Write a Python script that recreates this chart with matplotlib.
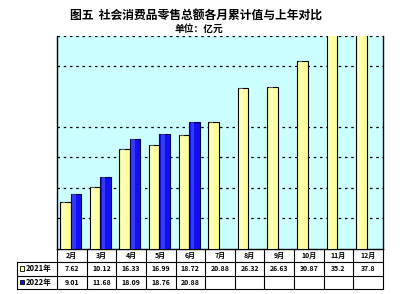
import matplotlib
matplotlib.use("Agg")
import matplotlib.pyplot as plt
from matplotlib.lines import Line2D
from matplotlib.patches import Rectangle
import numpy as np

plt.rcParams['font.family'] = ['Noto Sans CJK SC', 'DejaVu Sans']

months = ["2月", "3月", "4月", "5月", "6月", "7月", "8月", "9月", "10月", "11月", "12月"]
labels_2021 = ["7.62", "10.12", "16.33", "16.99", "18.72", "20.88", "26.32", "26.63", "30.87", "35.2", "37.8"]
labels_2022 = ["9.01", "11.68", "18.09", "18.76", "20.88"]
vals_2021 = [float(v) for v in labels_2021]
vals_2022 = [float(v) for v in labels_2022]
series_names = ["2021年", "2022年"]
title = "图五  社会消费品零售总额各月累计值与上年对比"
subtitle = "单位：亿元"

W, H = 400, 294
fig = plt.figure(figsize=(W / 100, H / 100), dpi=100)
fig.patch.set_facecolor("white")

L, R, T, B = 57, 383, 35.7, 248.5
ax = fig.add_axes([L / W, 1 - B / H, (R - L) / W, (B - T) / H])
ax.set_facecolor("#CCFFFF")

n = len(months)
x = np.arange(n)
bw = 0.355
c21 = x - 0.22
c22 = x[:len(vals_2022)] - 0.22 + bw

ax.bar(c21, vals_2021, width=bw, color="#FFFF99", edgecolor="black", linewidth=0.8, zorder=3)
ax.bar(c22, vals_2022, width=bw, color="#1010F0", edgecolor="#000050", linewidth=0.8, zorder=3)
# highlight for cylinder look
ax.bar(c21 - bw * 0.18, vals_2021, width=bw * 0.35, color="white", alpha=0.35, linewidth=0, zorder=4)
ax.bar(c22 - bw * 0.18, vals_2022, width=bw * 0.35, color="#6060FF", alpha=0.5, linewidth=0, zorder=4)

ax.set_xlim(-0.5, n - 0.5)
ax.set_ylim(0, 35)
for gy in [5, 10, 15, 20, 30, 35]:
    ax.axhline(gy, color="black", linestyle=(0, (2, 3)), linewidth=0.9, zorder=1)
ax.set_xticks([])
ax.set_yticks([])
for s in ["left", "bottom", "right"]:
    ax.spines[s].set_color("black")
    ax.spines[s].set_linewidth(1.0)
ax.spines["top"].set_visible(False)

# title
fig.text(196 / W, 1 - 15 / H, title, ha="center", va="center", fontsize=8.5, fontweight="bold")
fig.text(199 / W, 1 - 28.5 / H, subtitle, ha="center", va="center", fontsize=7, fontweight="bold")

# table
def fy(py):
    return 1 - py / H

colw = (R - L) / n
rows_y = [B, 262, 275.5, 289]
tl = 17
lk = dict(color="black", linewidth=0.8, transform=fig.transFigure)
for ry in rows_y[1:]:
    fig.add_artist(Line2D([tl / W, R / W], [fy(ry), fy(ry)], **lk))
fig.add_artist(Line2D([tl / W, tl / W], [fy(rows_y[1]), fy(rows_y[3])], **lk))
for i in range(n + 1):
    xx = (L + i * colw) / W
    fig.add_artist(Line2D([xx, xx], [fy(rows_y[0]), fy(rows_y[3])], **lk))

for i, m in enumerate(months):
    cx = (L + (i + 0.5) * colw) / W
    fig.text(cx, fy((rows_y[0] + rows_y[1]) / 2), m, ha="center", va="center", fontsize=5, fontweight="bold")
for i, v in enumerate(labels_2021):
    cx = (L + (i + 0.5) * colw) / W
    fig.text(cx, fy((rows_y[1] + rows_y[2]) / 2), v, ha="center", va="center", fontsize=5, fontweight="bold")
for i, v in enumerate(labels_2022):
    cx = (L + (i + 0.5) * colw) / W
    fig.text(cx, fy((rows_y[2] + rows_y[3]) / 2), v, ha="center", va="center", fontsize=5, fontweight="bold")

for k, (name, col) in enumerate(zip(series_names, ["#FFFF99", "#1010F0"])):
    ymid = (rows_y[1 + k] + rows_y[2 + k]) / 2
    fig.add_artist(Rectangle((19.5 / W, fy(ymid + 2.2)), 4.5 / W, 4.5 / H, facecolor=col,
                             edgecolor="black", linewidth=0.6, transform=fig.transFigure))
    fig.text(25.5 / W, fy(ymid), name, ha="left", va="center", fontsize=5.5, fontweight="bold")

fig.savefig("out.png", dpi=100, facecolor="white")
